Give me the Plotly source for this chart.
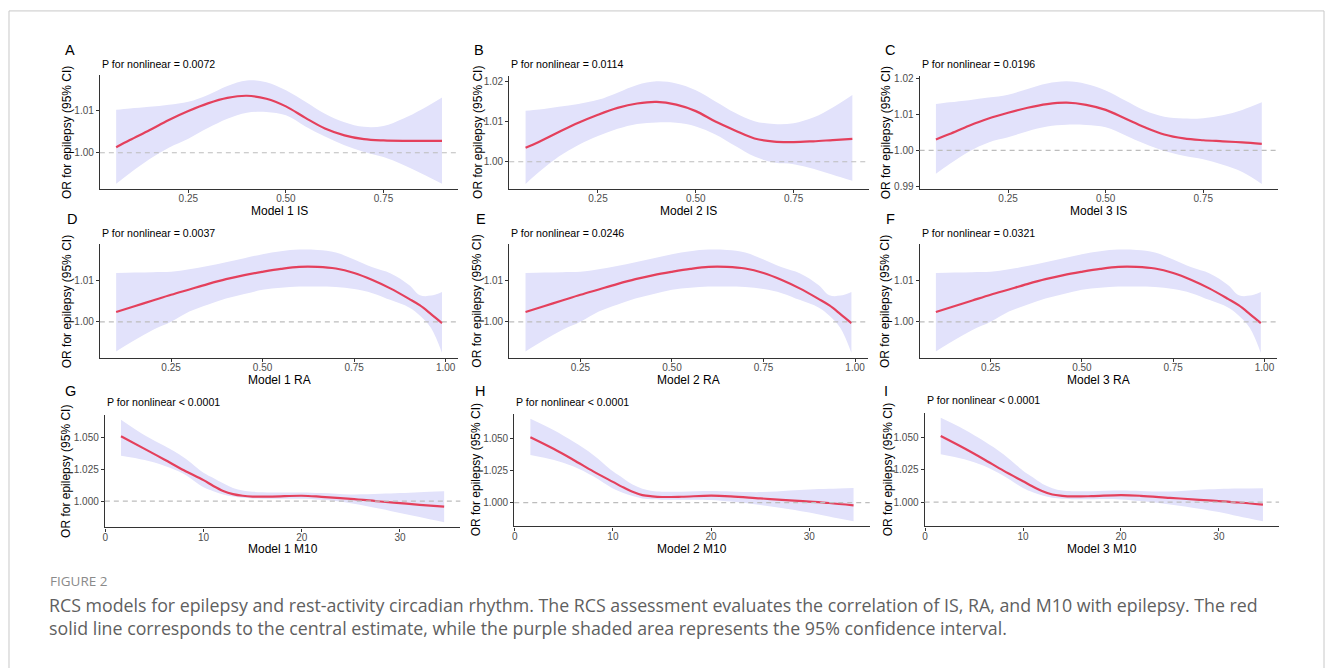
import plotly.graph_objects as go

# ---------------- data ----------------
is_x = [0.065, 0.1, 0.15, 0.2, 0.25, 0.3, 0.35, 0.4, 0.45, 0.5, 0.55, 0.6, 0.65, 0.7, 0.75, 0.8, 0.85, 0.9]

m1_is_est = [1.0013, 1.0030, 1.0053, 1.0077, 1.0098, 1.0116, 1.0129, 1.0134, 1.0127, 1.0109, 1.0082, 1.0057, 1.0041, 1.0032, 1.0029, 1.0028, 1.0028, 1.0028]
m1_is_hi = [1.0101, 1.0104, 1.0108, 1.0113, 1.0120, 1.0136, 1.0157, 1.0170, 1.0166, 1.0147, 1.0120, 1.0092, 1.0072, 1.0061, 1.0063, 1.0080, 1.0103, 1.0130]
m1_is_lo = [0.9927, 0.9952, 0.9985, 1.0012, 1.0033, 1.0058, 1.0080, 1.0094, 1.0096, 1.0088, 1.0062, 1.0038, 1.0018, 1.0002, 0.9990, 0.9972, 0.9950, 0.9927]

m2_is_est = [1.0035, 1.0050, 1.0074, 1.0097, 1.0117, 1.0134, 1.0145, 1.0149, 1.0142, 1.0126, 1.0100, 1.0078, 1.0058, 1.0050, 1.0049, 1.0051, 1.0054, 1.0057]
m2_is_hi = [1.0127, 1.0130, 1.0137, 1.0144, 1.0154, 1.0172, 1.0191, 1.0200, 1.0195, 1.0178, 1.0150, 1.0122, 1.0101, 1.0094, 1.0096, 1.0110, 1.0135, 1.0166]
m2_is_lo = [0.9945, 0.9975, 1.0013, 1.0042, 1.0064, 1.0082, 1.0094, 1.0098, 1.0097, 1.0088, 1.0068, 1.0040, 1.0013, 0.9998, 0.9994, 0.9983, 0.9968, 0.9953]

m3_is_est = [1.0030, 1.0045, 1.0068, 1.0088, 1.0104, 1.0118, 1.0128, 1.0132, 1.0126, 1.0112, 1.0088, 1.0064, 1.0044, 1.0033, 1.0028, 1.0025, 1.0022, 1.0018]
m3_is_hi = [1.0128, 1.0133, 1.0139, 1.0146, 1.0154, 1.0170, 1.0185, 1.0191, 1.0184, 1.0166, 1.0138, 1.0110, 1.0093, 1.0088, 1.0089, 1.0097, 1.0112, 1.0133]
m3_is_lo = [0.9935, 0.9962, 0.9997, 1.0022, 1.0036, 1.0053, 1.0066, 1.0071, 1.0070, 1.0064, 1.0042, 1.0018, 0.9998, 0.9985, 0.9975, 0.9960, 0.9940, 0.9907]

ra_x = [0.1, 0.15, 0.2, 0.25, 0.3, 0.35, 0.4, 0.45, 0.5, 0.55, 0.6, 0.65, 0.7, 0.75, 0.8, 0.85, 0.9, 0.93, 0.96, 0.99]

m1_ra_est = [1.0024, 1.0038, 1.0052, 1.0066, 1.0079, 1.0092, 1.0104, 1.0114, 1.0122, 1.0129, 1.0134, 1.0134, 1.0130, 1.0119, 1.0102, 1.0081, 1.0056, 1.0040, 1.0019, 0.9997]
m1_ra_hi = [1.0119, 1.0120, 1.0121, 1.0122, 1.0128, 1.0136, 1.0145, 1.0155, 1.0165, 1.0172, 1.0176, 1.0175, 1.0169, 1.0152, 1.0133, 1.0118, 1.0090, 1.0065, 1.0064, 1.0073]
m1_ra_lo = [0.9928, 0.9955, 0.9980, 1.0000, 1.0025, 1.0042, 1.0057, 1.0068, 1.0078, 1.0083, 1.0086, 1.0086, 1.0085, 1.0080, 1.0070, 1.0053, 1.0035, 1.0015, 0.9985, 0.9924]

m2_ra_est = [1.0024, 1.0038, 1.0052, 1.0066, 1.0079, 1.0092, 1.0104, 1.0114, 1.0122, 1.0129, 1.0134, 1.0134, 1.0130, 1.0119, 1.0102, 1.0081, 1.0056, 1.0040, 1.0019, 0.9997]
m2_ra_hi = [1.0119, 1.0120, 1.0121, 1.0122, 1.0128, 1.0136, 1.0145, 1.0155, 1.0165, 1.0172, 1.0176, 1.0175, 1.0169, 1.0152, 1.0133, 1.0118, 1.0090, 1.0065, 1.0064, 1.0073]
m2_ra_lo = [0.9928, 0.9955, 0.9980, 1.0000, 1.0025, 1.0042, 1.0057, 1.0068, 1.0078, 1.0083, 1.0086, 1.0086, 1.0085, 1.0080, 1.0070, 1.0053, 1.0035, 1.0015, 0.9985, 0.9924]

m3_ra_est = [1.0024, 1.0038, 1.0052, 1.0066, 1.0079, 1.0092, 1.0104, 1.0114, 1.0122, 1.0129, 1.0134, 1.0134, 1.0130, 1.0119, 1.0102, 1.0081, 1.0056, 1.0040, 1.0019, 0.9997]
m3_ra_hi = [1.0119, 1.0120, 1.0121, 1.0122, 1.0128, 1.0136, 1.0145, 1.0155, 1.0165, 1.0172, 1.0176, 1.0175, 1.0169, 1.0152, 1.0133, 1.0118, 1.0090, 1.0065, 1.0064, 1.0073]
m3_ra_lo = [0.9928, 0.9955, 0.9980, 1.0000, 1.0025, 1.0042, 1.0057, 1.0068, 1.0078, 1.0083, 1.0086, 1.0086, 1.0085, 1.0080, 1.0070, 1.0053, 1.0035, 1.0015, 0.9985, 0.9924]

m10_x = [1.6, 4, 6, 8, 10, 11, 12, 13, 14, 15, 17, 20, 22, 25, 28, 30, 32, 34.5]

m1_m10_est = [1.0510, 1.0411, 1.0328, 1.0243, 1.0165, 1.0119, 1.0080, 1.0055, 1.0042, 1.0036, 1.0036, 1.0042, 1.0034, 1.0018, 0.9997, 0.9984, 0.9971, 0.9956]
m1_m10_hi = [1.0640, 1.0518, 1.0435, 1.0344, 1.0224, 1.0182, 1.0141, 1.0104, 1.0083, 1.0073, 1.0068, 1.0068, 1.0063, 1.0052, 1.0057, 1.0063, 1.0070, 1.0078]
m1_m10_lo = [1.0357, 1.0323, 1.0279, 1.0214, 1.0109, 1.0078, 1.0052, 1.0036, 1.0026, 1.0021, 1.0018, 1.0018, 1.0010, 0.9984, 0.9940, 0.9906, 0.9875, 0.9833]

m2_m10_est = [1.0510, 1.0418, 1.0333, 1.0244, 1.0162, 1.0121, 1.0085, 1.0059, 1.0049, 1.0044, 1.0046, 1.0054, 1.0049, 1.0033, 1.0018, 1.0008, 0.9997, 0.9979]
m2_m10_hi = [1.0654, 1.0564, 1.0474, 1.0372, 1.0244, 1.0192, 1.0141, 1.0108, 1.0090, 1.0085, 1.0085, 1.0090, 1.0087, 1.0082, 1.0095, 1.0103, 1.0108, 1.0115]
m2_m10_lo = [1.0372, 1.0333, 1.0282, 1.0205, 1.0110, 1.0077, 1.0051, 1.0033, 1.0026, 1.0023, 1.0023, 1.0021, 1.0008, 0.9982, 0.9949, 0.9923, 0.9892, 0.9854]

m3_m10_est = [1.0513, 1.0418, 1.0333, 1.0244, 1.0162, 1.0121, 1.0085, 1.0059, 1.0049, 1.0044, 1.0046, 1.0054, 1.0049, 1.0033, 1.0018, 1.0008, 0.9997, 0.9980]
m3_m10_hi = [1.0654, 1.0564, 1.0474, 1.0372, 1.0244, 1.0192, 1.0141, 1.0108, 1.0090, 1.0085, 1.0085, 1.0090, 1.0087, 1.0082, 1.0095, 1.0101, 1.0105, 1.0108]
m3_m10_lo = [1.0372, 1.0333, 1.0282, 1.0205, 1.0110, 1.0077, 1.0051, 1.0033, 1.0026, 1.0023, 1.0023, 1.0021, 1.0008, 0.9982, 0.9949, 0.9923, 0.9890, 0.9851]

letters = ["A", "B", "C", "D", "E", "F", "G", "H", "I"]
p_texts = ["P for nonlinear = 0.0072", "P for nonlinear = 0.0114", "P for nonlinear = 0.0196",
           "P for nonlinear = 0.0037", "P for nonlinear = 0.0246", "P for nonlinear = 0.0321",
           "P for nonlinear < 0.0001", "P for nonlinear < 0.0001", "P for nonlinear < 0.0001"]
x_titles = ["Model 1 IS", "Model 2 IS", "Model 3 IS",
            "Model 1 RA", "Model 2 RA", "Model 3 RA",
            "Model 1 M10", "Model 2 M10", "Model 3 M10"]
y_title = "OR for epilepsy (95% CI)"

is_ticks = [0.25, 0.50, 0.75]
is_ticklabels = ["0.25", "0.50", "0.75"]
ra_ticks = [0.25, 0.50, 0.75, 1.00]
ra_ticklabels = ["0.25", "0.50", "0.75", "1.00"]
m10_ticks = [0, 10, 20, 30]
m10_ticklabels = ["0", "10", "20", "30"]
y_ticks_a = [1.00, 1.01]
y_ticks_b = [1.00, 1.01, 1.02]
y_ticks_c = [0.99, 1.00, 1.01, 1.02]
y_ticks_ra = [1.00, 1.01]
y_ticks_m10 = [1.000, 1.025, 1.050]
y_ticklabels_a = ["1.00", "1.01"]
y_ticklabels_b = ["1.00", "1.01", "1.02"]
y_ticklabels_c = ["0.99", "1.00", "1.01", "1.02"]
y_ticklabels_ra = ["1.00", "1.01"]
y_ticklabels_m10 = ["1.000", "1.025", "1.050"]

caption_head = "FIGURE 2"
caption_line1 = ("RCS models for epilepsy and rest-activity circadian rhythm. The RCS assessment evaluates "
                 "the correlation of IS, RA, and M10 with epilepsy. The red")
caption_line2 = ("solid line corresponds to the central estimate, while the purple shaded area represents "
                 "the 95% confidence interval.")

series = [
    (is_x, m1_is_est, m1_is_lo, m1_is_hi, is_ticks, is_ticklabels, y_ticks_a, y_ticklabels_a),
    (is_x, m2_is_est, m2_is_lo, m2_is_hi, is_ticks, is_ticklabels, y_ticks_b, y_ticklabels_b),
    (is_x, m3_is_est, m3_is_lo, m3_is_hi, is_ticks, is_ticklabels, y_ticks_c, y_ticklabels_c),
    (ra_x, m1_ra_est, m1_ra_lo, m1_ra_hi, ra_ticks, ra_ticklabels, y_ticks_ra, y_ticklabels_ra),
    (ra_x, m2_ra_est, m2_ra_lo, m2_ra_hi, ra_ticks, ra_ticklabels, y_ticks_ra, y_ticklabels_ra),
    (ra_x, m3_ra_est, m3_ra_lo, m3_ra_hi, ra_ticks, ra_ticklabels, y_ticks_ra, y_ticklabels_ra),
    (m10_x, m1_m10_est, m1_m10_lo, m1_m10_hi, m10_ticks, m10_ticklabels, y_ticks_m10, y_ticklabels_m10),
    (m10_x, m2_m10_est, m2_m10_lo, m2_m10_hi, m10_ticks, m10_ticklabels, y_ticks_m10, y_ticklabels_m10),
    (m10_x, m3_m10_est, m3_m10_lo, m3_m10_hi, m10_ticks, m10_ticklabels, y_ticks_m10, y_ticklabels_m10),
]

# ---------------- layout (pixel geometry) ----------------
W, H = 1331, 668
# panel plot boxes: left, right, top, bottom (px)
boxes = [
    (98, 457, 72, 187), (508, 868, 73, 187), (919, 1278, 73, 187),
    (98, 457, 243, 358), (508, 867, 243, 358), (919, 1277, 243, 358),
    (103, 459, 415, 529), (513, 869, 414, 528), (924, 1279, 413, 528),
]
letter_pos = [(68, 46), (478, 46), (889, 46), (70, 217), (480, 217), (890, 217),
              (69, 391), (479, 391), (885, 391)]
ytitle_x = [65, 476, 885, 65, 476, 885, 64, 475, 887]
xtitle_y = [209, 209, 209, 380, 380, 380, 551, 551, 551]
p_y = [61, 61, 61, 231, 231, 231, 402, 402, 400]

FONT = "Liberation Sans, Arial, sans-serif"
CAP_FONT = "Open Sans, sans-serif"
LINE_COL = "#E4405C"
BAND_COL = "#E2E2FB"


def px(x):
    return x / W


def py(y):
    return 1 - y / H


fig = go.Figure()
layout = dict(
    width=W, height=H, margin=dict(l=0, r=0, t=0, b=0),
    paper_bgcolor="white", plot_bgcolor="white", showlegend=False,
    font=dict(family=FONT, color="black"),
)
annotations = []
shapes = []

for i, (xs, est, lo, hi, xt, xtl, yt, ytl) in enumerate(series):
    n = "" if i == 0 else str(i + 1)
    xa, ya = "x" + n, "y" + n
    l, r, t, b = boxes[i]
    x0, x1 = min(xs), max(xs)
    xpad = 0.05 * (x1 - x0)
    y0, y1 = min(lo), max(hi)
    ypad = 0.05 * (y1 - y0)

    fig.add_trace(go.Scatter(x=xs, y=lo, mode="lines", line=dict(width=0, shape="spline", smoothing=1.0),
                             xaxis=xa, yaxis=ya, hoverinfo="skip"))
    fig.add_trace(go.Scatter(x=xs, y=hi, mode="lines", line=dict(width=0, shape="spline", smoothing=1.0),
                             fill="tonexty", fillcolor=BAND_COL, xaxis=xa, yaxis=ya, hoverinfo="skip"))
    fig.add_trace(go.Scatter(x=xs, y=est, mode="lines",
                             line=dict(color=LINE_COL, width=2.2, shape="spline", smoothing=1.0),
                             xaxis=xa, yaxis=ya))

    axis_common = dict(showgrid=False, zeroline=False, showline=True, linecolor="#333333", linewidth=1.1,
                       ticks="outside", ticklen=3, tickwidth=1, tickcolor="#333333")
    layout["xaxis" + n] = dict(axis_common, domain=[px(l), px(r)], anchor=ya, ticklabelstandoff=-3,
                               tickfont=dict(size=10, color="#4D4D4D", family=FONT),
                               range=[x0 - xpad, x1 + xpad], tickvals=xt, ticktext=xtl)
    layout["yaxis" + n] = dict(axis_common, domain=[py(b), py(t)], anchor=xa,
                               tickfont=dict(size=10, color="#4D4D4D", family=FONT),
                               range=[y0 - ypad, y1 + ypad], tickvals=yt, ticktext=ytl)

    # reference line at OR = 1
    shapes.append(dict(type="line", xref=xa + " domain", yref=ya, x0=0, x1=1, y0=1, y1=1,
                       line=dict(color="#BDBDBD", width=1.1, dash="5px,4px"), layer="above"))

    lx, ly = letter_pos[i]
    annotations.append(dict(text=letters[i], x=px(lx), y=py(ly), xref="paper", yref="paper",
                            showarrow=False, xanchor="center", yanchor="middle",
                            font=dict(size=14.5, color="black", family=FONT)))
    annotations.append(dict(text=p_texts[i], x=px(l), y=py(p_y[i]), xref="paper", yref="paper",
                            showarrow=False, xanchor="left", yanchor="middle",
                            font=dict(size=10.6, color="black", family=FONT)))
    annotations.append(dict(text=x_titles[i], x=px((l + r) / 2), y=py(xtitle_y[i]), xref="paper", yref="paper",
                            showarrow=False, xanchor="center", yanchor="middle",
                            font=dict(size=12, color="black", family=FONT)))
    annotations.append(dict(text=y_title, x=px(ytitle_x[i]), y=py((t + b) / 2), xref="paper", yref="paper",
                            showarrow=False, xanchor="center", yanchor="middle", textangle=-90,
                            font=dict(size=12, color="black", family=FONT)))

# caption
annotations.append(dict(text=caption_head, x=px(46), y=py(583), xref="paper", yref="paper", showarrow=False,
                        xanchor="left", yanchor="middle",
                        font=dict(size=13.5, color="#8a8a8a", family=CAP_FONT)))
annotations.append(dict(text=caption_line1, x=px(45), y=py(607), xref="paper", yref="paper", showarrow=False,
                        xanchor="left", yanchor="middle",
                        font=dict(size=17.8, color="#5f5f5f", family=CAP_FONT)))
annotations.append(dict(text=caption_line2, x=px(45), y=py(631), xref="paper", yref="paper", showarrow=False,
                        xanchor="left", yanchor="middle",
                        font=dict(size=17.8, color="#5f5f5f", family=CAP_FONT)))

# outer frame
shapes.append(dict(type="rect", xref="paper", yref="paper", x0=px(7), x1=px(1324), y0=-0.05, y1=py(7),
                   line=dict(color="#C8C8C8", width=1), fillcolor="rgba(0,0,0,0)", layer="below"))

layout["annotations"] = annotations
layout["shapes"] = shapes
fig.update_layout(**layout)
fig.write_html("out.html", config={"displayModeBar": False},
               post_script="document.body.style.margin='0px';")
